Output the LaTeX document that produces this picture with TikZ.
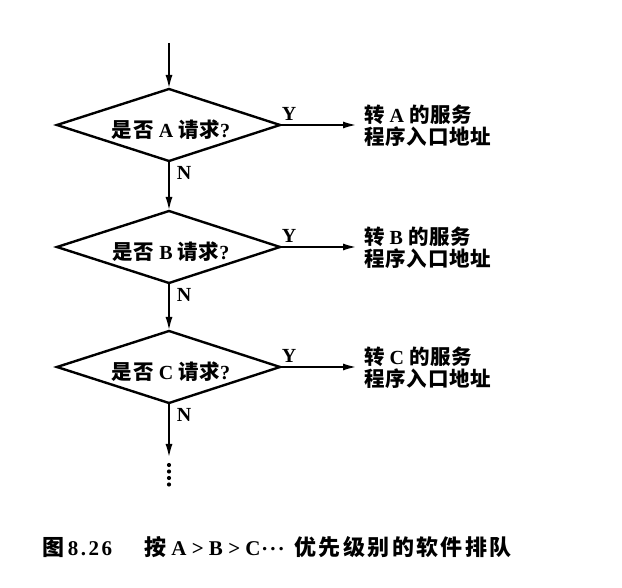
\documentclass[tikz,border=0pt]{standalone}
\usepackage{fontspec}
\setmainfont{Liberation Serif}
\newfontfamily\cjk{Noto Sans CJK SC}[LetterSpace=4]
\newfontfamily\cjkcap{Noto Sans CJK SC}[LetterSpace=11]
\usetikzlibrary{arrows.meta}
\newcommand\zh[1]{{\cjk\bfseries\fontsize{20.5}{21}\selectfont #1}}
\newcommand\zhc[1]{{\cjkcap\bfseries\fontsize{22}{22}\selectfont #1}}
\begin{document}
\begin{tikzpicture}[x=1pt,y=-1pt,
  every node/.style={font=\bfseries\fontsize{20}{21}\selectfont, inner sep=0pt},
  conn/.style={line width=2.2pt, -{Latex[length=14pt,width=7pt]}},
  lbl/.style={font=\bfseries\fontsize{20}{22}\selectfont},
  capt/.style={font=\bfseries\fontsize{21}{22}\selectfont, anchor=base}]
\useasboundingbox (0,0) rectangle (622,588);
\foreach \n/\y/\L in {a/125/A, b/247/B, c/367/C}{
  \coordinate (\n t) at (169,\y-36);
  \coordinate (\n b) at (169,\y+36);
  \coordinate (\n l) at (57,\y);
  \coordinate (\n r) at (280,\y);
  \draw[line width=2.4pt, line join=miter] (\n t) -- (\n r) -- (\n b) -- (\n l) -- cycle;
  \node (\n txt) at (171,\y+5) {\zh{是否}\ \L\ \zh{请求}?};
  \coordinate (\n end) at (357,\y);
  \draw[conn] (\n r) -- (\n end);
  \node[lbl] (\n Y) at (289,\y-11) {Y};
  \node[anchor=west, align=left, font=\bfseries\fontsize{20}{21.5}\selectfont] (\n out) at (364,\y+1) {\zh{转}\ \L\ \zh{的服务}\\\zh{程序入口地址}};
  \node[lbl] (\n N) at (184,\y+48) {N};
}
\coordinate (start) at (169,43);
\draw[conn] (start) -- (at);
\draw[conn] (ab) -- (bt);
\draw[conn] (bb) -- (ct);
\coordinate (cend) at (169,458);
\draw[conn] (cb) -- (cend);
\foreach \yy in {465,471.5,478,484.5}{\fill (169,\yy) circle (2.1pt);}
\node[capt] (cap1) at (53,555) {\zhc{图}};
\node[capt] (cap2) at (90,555) {8\hspace{2.5pt}.\hspace{2.5pt}2\hspace{2.5pt}6};
\node[capt] (cap3) at (155,555) {\zhc{按}};
\node[capt] (cap4) at (216,555) {A\ >\ B\ >\ C};
\node[capt] (cap5) at (273,555) {\raisebox{5pt}{.\hspace{3pt}.\hspace{3pt}.}};
\node[capt] (cap6) at (403,555) {\zhc{优先级别的软件排队}};
\end{tikzpicture}
\end{document}
